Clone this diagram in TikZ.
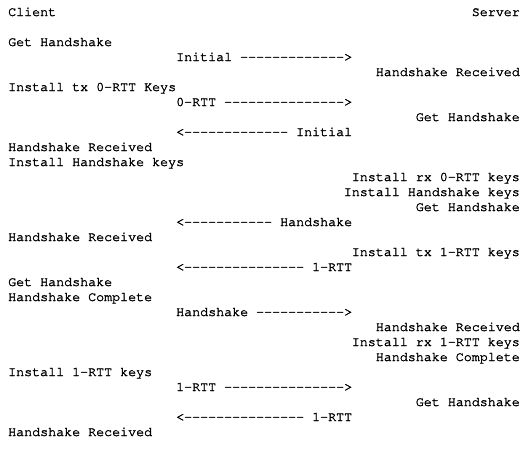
\documentclass[tikz,border=0pt]{standalone}
\usepackage[T1]{fontenc}
\usepackage{tikz}
\usetikzlibrary{positioning}
\newcommand\courierfont{\fontencoding{T1}\fontfamily{pcr}\fontsize{13.33}{15}\selectfont\special{pdf:literal 2 Tr 0.3 w}}
% a run of hyphens, one group each so no en-dash ligature forms
\newcommand\dashes[1]{\foreach\i in {1,...,#1}{-}}

\begin{document}
\begin{tikzpicture}[x=1pt,y=1pt,
txt/.style={inner sep=0,font=\courierfont},
client/.style={txt,anchor=base west},
wire/.style={txt,anchor=base west},
server/.style={txt,anchor=base east}]
\useasboundingbox[fill=white](0,-1)rectangle(532,-452);
% headers
\node[client](clientHdr)at(8,-17){Client};
\node[server](serverHdr)at(520,-17){Server};
% first flight
\node[client](cGet1)at(8,-47){Get Handshake};
\node[wire](wInitialOut)at(176,-62){Initial \dashes{13}>};
\node[server](sRecv1)at(520,-77){Handshake Received};
\node[client](cTx0rtt)at(8,-92){Install tx 0\dashes{1}RTT Keys};
\node[wire](w0rttOut)at(176,-107){0\dashes{1}RTT \dashes{15}>};
\node[server](sGet1)at(520,-122){Get Handshake};
\node[wire](wInitialIn)at(176,-137){<\dashes{13} Initial};
\node[client](cRecv1)at(8,-152){Handshake Received};
\node[client](cHsKeys)at(8,-167){Install Handshake keys};
\node[server](sRx0rtt)at(520,-182){Install rx 0\dashes{1}RTT keys};
\node[server](sHsKeys)at(520,-197){Install Handshake keys};
\node[server](sGet2)at(520,-212){Get Handshake};
\node[wire](wHsIn)at(176,-227){<\dashes{11} Handshake};
\node[client](cRecv2)at(8,-242){Handshake Received};
\node[server](sTx1rtt)at(520,-257){Install tx 1\dashes{1}RTT keys};
\node[wire](w1rttIn1)at(176,-272){<\dashes{15} 1\dashes{1}RTT};
% client finishes
\node[client](cGet2)at(8,-287){Get Handshake};
\node[client](cDone)at(8,-302){Handshake Complete};
\node[wire](wHsOut)at(176,-317){Handshake \dashes{11}>};
\node[server](sRecv2)at(520,-332){Handshake Received};
\node[server](sRx1rtt)at(520,-347){Install rx 1\dashes{1}RTT keys};
\node[server](sDone)at(520,-362){Handshake Complete};
\node[client](c1rttKeys)at(8,-377){Install 1\dashes{1}RTT keys};
\node[wire](w1rttOut)at(176,-392){1\dashes{1}RTT \dashes{15}>};
\node[server](sGet3)at(520,-407){Get Handshake};
\node[wire](w1rttIn2)at(176,-422){<\dashes{15} 1\dashes{1}RTT};
\node[client](cRecv3)at(8,-437){Handshake Received};
\end{tikzpicture}
\end{document}
